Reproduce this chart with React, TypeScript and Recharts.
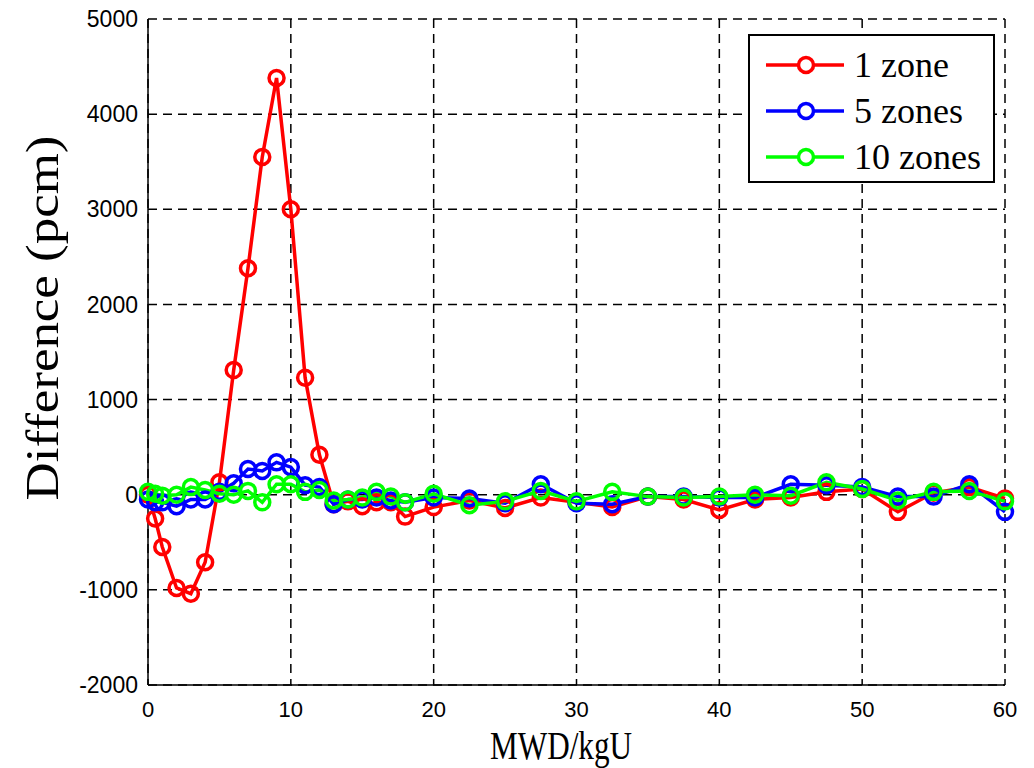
import React from 'react'
import {
  LineChart,
  Line,
  XAxis,
  YAxis,
  CartesianGrid,
} from 'recharts'

const burnup = [
  0, 0.5, 1, 2, 3, 4, 5, 6, 7, 8, 9, 10, 11, 12, 13, 14, 15, 16, 17, 18, 20,
  22.5, 25, 27.5, 30, 32.5, 35, 37.5, 40, 42.5, 45, 47.5, 50, 52.5, 55, 57.5, 60,
]

const oneZone = [
  0, -250, -550, -980, -1040, -710, 130, 1310, 2380, 3550, 4380, 3000, 1230, 420,
  -100, -70, -120, -80, -80, -230, -130, -60, -140, -30, -80, -130, -20, -50,
  -160, -50, -30, 30, 60, -180, 20, 80, -40,
]

const fiveZones = [
  -50, -80, -80, -120, -50, -50, 30, 120, 270, 250, 340, 290, 100, 80, -100,
  -50, -50, -30, -60, -80, -30, -40, -90, 110, -90, -100, -20, -20, -30, -30,
  110, 100, 80, -20, -20, 110, -180,
]

const tenZones = [
  30, 10, -10, 0, 80, 50, 10, 0, 40, -80, 110, 110, 30, 50, -60, -50, -30, 30,
  -20, -80, 10, -110, -70, 40, -70, 30, -20, -30, -20, 0, -10, 130, 60, -60, 30,
  40, -70,
]

const xTicks = [0, 10, 20, 30, 40, 50, 60]
const yTicks = [-2000, -1000, 0, 1000, 2000, 3000, 4000, 5000]

const seriesKeys = ['s1', 's5', 's10']
const seriesNames = ['1 zone', '5 zones', '10 zones']
const seriesColors = ['#ff0000', '#0000ff', '#00ff00']

const data = burnup.map((x, i) => ({
  x,
  s1: oneZone[i],
  s5: fiveZones[i],
  s10: tenZones[i],
}))

const serif = '"Liberation Serif", "Times New Roman", serif'
const sans = '"Liberation Sans", Arial, sans-serif'

const XLabel = () => (
  <text
    x={561}
    y={759}
    textAnchor='middle'
    fontFamily={serif}
    fontSize={40}
    textLength={142}
    lengthAdjust='spacingAndGlyphs'
    fill='#000'>
    MWD/kgU
  </text>
)

const YLabel = () => (
  <text
    x={0}
    y={0}
    transform='translate(58,318) rotate(-90)'
    textAnchor='middle'
    fontFamily={serif}
    fontSize={46}
    textLength={365}
    lengthAdjust='spacingAndGlyphs'
    fill='#000'>
    Difference (pcm)
  </text>
)

// legend drawn as an overlay so it takes no room from the plot
const LegendBox = () => (
  <div
    style={{
      position: 'absolute',
      left: 748,
      top: 34,
      width: 247,
      height: 149,
      border: '2px solid #000',
      background: '#fff',
      boxSizing: 'border-box',
      paddingTop: 6,
    }}>
    {seriesNames.map((name, i) => (
      <div key={name} style={{ display: 'flex', alignItems: 'center', height: 46 }}>
        <svg width={90} height={22} style={{ marginLeft: 14 }}>
          <line x1={2} y1={11} x2={80} y2={11} stroke={seriesColors[i]} strokeWidth={3.5} />
          <circle cx={42} cy={11} r={7.5} fill='#fff' stroke={seriesColors[i]} strokeWidth={3.5} />
        </svg>
        <span
          style={{
            fontFamily: serif,
            fontSize: 36,
            color: '#000',
            lineHeight: 1,
          }}>
          {name}
        </span>
      </div>
    ))}
  </div>
)

const App = () => {
  return (
    <div style={{ position: 'absolute', left: 0, top: 0, width: 1034, height: 768, background: '#fff' }}>
      <LineChart
        width={1034}
        height={768}
        data={data}
        margin={{ top: 19, right: 29, left: 0, bottom: 0 }}>
        <CartesianGrid
          stroke='#000'
          strokeDasharray='9 6'
          strokeWidth={1.5}
          horizontalValues={yTicks}
          verticalValues={xTicks}
          yAxisId='left'
        />
        <XAxis
          dataKey='x'
          type='number'
          domain={[0, 60]}
          ticks={xTicks}
          height={83}
          tickLine={false}
          tickSize={0}
          tickMargin={16}
          axisLine={{ stroke: '#000', strokeWidth: 1.5 }}
          tick={{ fontFamily: sans, fontSize: 22, fill: '#000' }}
          label={<XLabel />}
        />
        <XAxis
          xAxisId='top'
          dataKey='x'
          type='number'
          orientation='top'
          domain={[0, 60]}
          height={0}
          tick={false}
          tickLine={false}
          axisLine={{ stroke: '#000', strokeWidth: 1.5 }}
        />
        <YAxis
          yAxisId='left'
          type='number'
          domain={[-2000, 5000]}
          ticks={yTicks}
          width={148}
          tickLine={false}
          tickSize={0}
          tickMargin={10}
          interval={0}
          axisLine={{ stroke: '#000', strokeWidth: 1.5 }}
          tick={{ fontFamily: sans, fontSize: 23, fill: '#000' }}
          label={<YLabel />}
        />
        <YAxis
          yAxisId='right'
          orientation='right'
          type='number'
          domain={[-2000, 5000]}
          width={0}
          tick={false}
          tickLine={false}
          axisLine={{ stroke: '#000', strokeWidth: 1.5 }}
        />
        {seriesKeys.map((key, i) => (
          <Line
            key={key}
            yAxisId='left'
            type='linear'
            dataKey={key}
            name={seriesNames[i]}
            stroke={seriesColors[i]}
            strokeWidth={3.5}
            dot={{ r: 7.5, fill: 'none', stroke: seriesColors[i], strokeWidth: 3.5 }}
            isAnimationActive={false}
          />
        ))}
      </LineChart>
      <LegendBox />
    </div>
  )
}

export default App
